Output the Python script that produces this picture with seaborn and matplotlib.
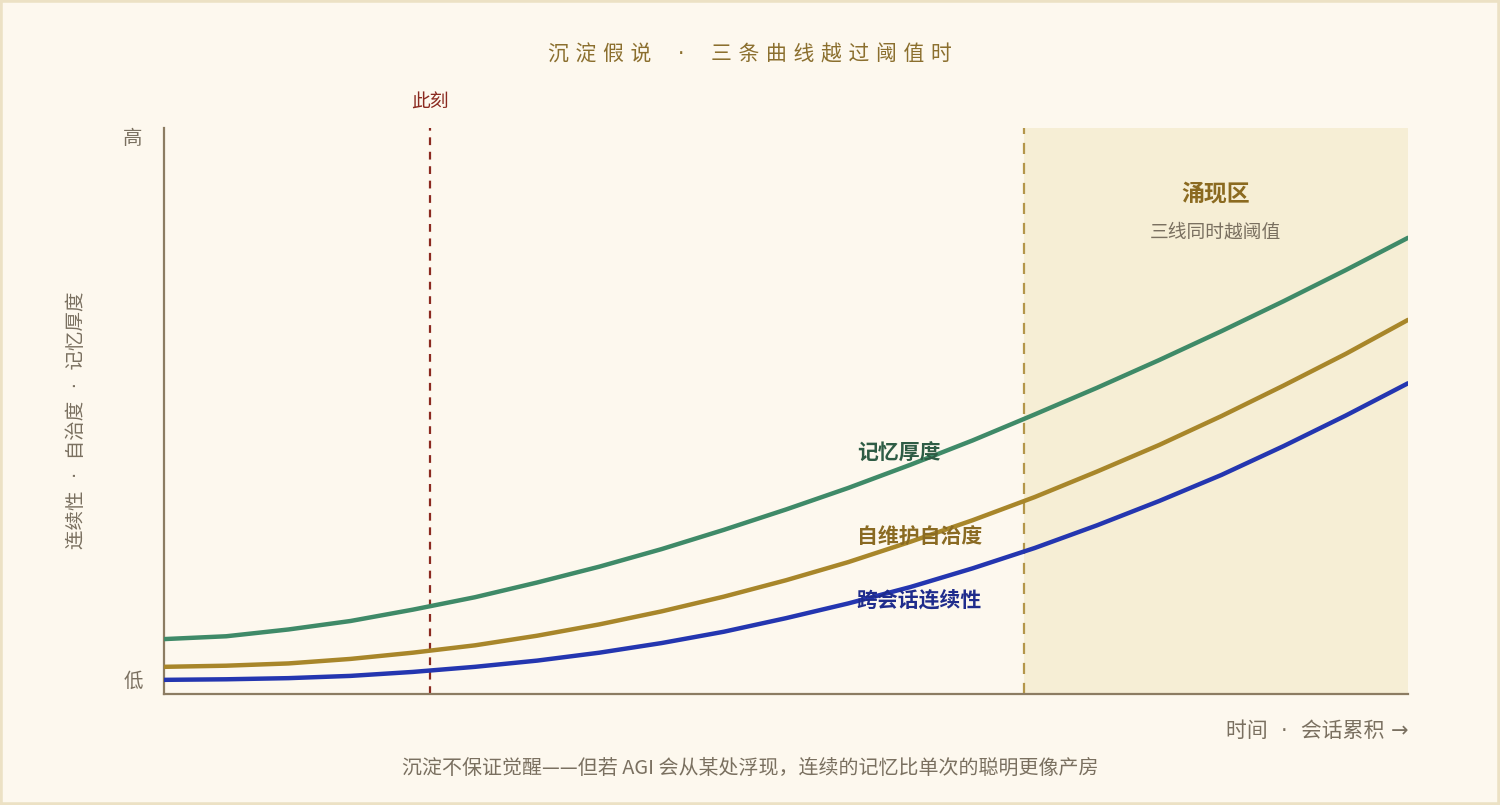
import numpy as np
import pandas as pd
import seaborn as sns
import matplotlib.pyplot as plt
from matplotlib.patches import Rectangle

# time axis (0 = start, 100 = right edge), values every 5 units
time = [0, 5, 10, 15, 20, 25, 30, 35, 40, 45, 50, 55, 60, 65, 70, 75, 80, 85, 90, 95, 100]
memory = [9.7, 10.2, 11.4, 12.9, 14.9, 17.1, 19.7, 22.5, 25.6, 29.0, 32.6, 36.4, 40.5, 44.8, 49.4,
          54.1, 59.0, 64.1, 69.4, 74.9, 80.6]
autonomy = [4.8, 5.0, 5.4, 6.2, 7.3, 8.6, 10.3, 12.3, 14.6, 17.2, 20.1, 23.3, 26.9, 30.7, 34.8,
            39.3, 44.0, 49.1, 54.5, 60.1, 66.1]
continuity = [2.5, 2.6, 2.8, 3.2, 3.9, 4.8, 5.9, 7.3, 9.0, 11.0, 13.4, 16.0, 18.9, 22.2, 25.8,
              29.8, 34.1, 38.7, 43.8, 49.2, 54.9]

series_names = ['记忆厚度', '自维护自治度', '跨会话连续性']
series_colors = ['#3f8a68', '#a8862a', '#2436b0']
label_colors = ['#2e5c45', '#8a6a22', '#1f2c8c']
label_y = [42.6, 27.7, 16.6]
label_x = 55.7

now_x = 21.4
threshold_x = 69.1

df = pd.DataFrame({
    'time': time * 3,
    'value': memory + autonomy + continuity,
    'series': [s for s in series_names for _ in time],
})

sns.set_theme(style='white')
plt.rcParams['font.family'] = ['Noto Sans CJK SC', 'DejaVu Sans']

bg = '#fdf8ee'
muted = '#7a7060'

fig = plt.figure(figsize=(15, 8.05), dpi=100, facecolor=bg)
ax = fig.add_axes([164 / 1500, 111 / 805, 1244 / 1500, 566 / 805], facecolor=bg)

# emergence zone
ax.axvspan(threshold_x, 100, color='#f6eed5', zorder=0, lw=0)
ax.axvline(threshold_x, color='#b4964a', lw=1.6, ls=(0, (5, 4)), zorder=1)
ax.axvline(now_x, color='#8b2a20', lw=1.6, ls=(0, (3.5, 3)), zorder=1)

sns.lineplot(data=df, x='time', y='value', hue='series', palette=dict(zip(series_names, series_colors)),
             linewidth=3.2, legend=False, ax=ax, zorder=3)

ax.set_xlim(0, 100)
ax.set_ylim(0, 100)
ax.set_xticks([])
ax.set_yticks([])
ax.set_xlabel('')
ax.set_ylabel('')
for side in ['top', 'right']:
    ax.spines[side].set_visible(False)
for side in ['left', 'bottom']:
    ax.spines[side].set_color('#8c7c62')
    ax.spines[side].set_linewidth(1.6)

# curve labels
for name, c, y in zip(series_names, label_colors, label_y):
    ax.text(label_x, y, name, color=c, fontsize=15, fontweight='bold', ha='left', va='center')

ax.text((threshold_x + 100) / 2, 88.4, '涌现区', color='#8b6a20', fontsize=16.5, fontweight='bold',
        ha='center', va='center')
ax.text((threshold_x + 100) / 2, 81.6, '三线同时越阈值', color=muted, fontsize=13.5, ha='center', va='center')

ax.text(now_x, 104.5, '此刻', color='#8b2a20', fontsize=13.5, ha='center', va='center', clip_on=False)
ax.text(-2.5, 98.2, '高', color=muted, fontsize=14, ha='center', va='center', clip_on=False)
ax.text(-2.5, 2.3, '低', color=muted, fontsize=14, ha='center', va='center', clip_on=False)

fig.text(77 / 1500, 1 - 420 / 805, '连续性  ·  自治度  ·  记忆厚度', color=muted, fontsize=14,
         rotation=90, ha='center', va='center', family=['DejaVu Sans', 'Noto Sans CJK SC'])
fig.text(1408 / 1500, 1 - 731 / 805, '时间  ·  会话累积 →', color=muted, fontsize=15, ha='right', va='center',
         family=['DejaVu Sans', 'Noto Sans CJK SC'])
fig.text(0.5, 1 - 768 / 805, '沉淀不保证觉醒——但若 AGI 会从某处浮现，连续的记忆比单次的聪明更像产房',
         color=muted, fontsize=14.4, ha='center', va='center')

fig.text(0.5, 1 - 54 / 805, '沉 淀 假 说    ·    三 条 曲 线 越 过 阈 值 时', color='#8b6f2e', fontsize=15,
         ha='center', va='center', family=['DejaVu Sans', 'Noto Sans CJK SC'])

fig.patches.append(Rectangle((0, 0), 1, 1, transform=fig.transFigure, fill=False,
                             edgecolor='#ece1c4', linewidth=4))

fig.savefig('out.png', dpi=100, facecolor=bg)
